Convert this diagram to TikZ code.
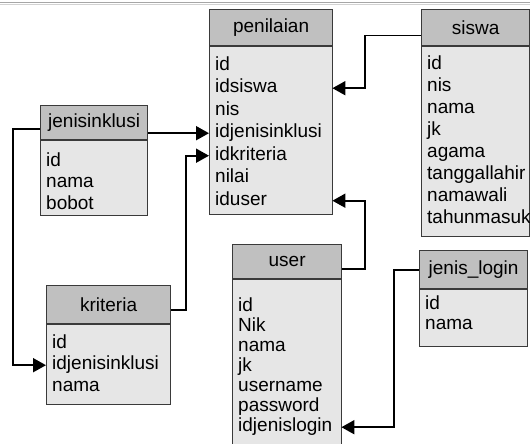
\documentclass[tikz,border=0pt]{standalone}
\usepackage{fontspec}
\setmainfont{Liberation Sans}
\usetikzlibrary{arrows.meta}
\definecolor{kepalaabu}{HTML}{C0C0C0}
\definecolor{isiabu}{HTML}{E6E6E6}
\definecolor{garisabu}{HTML}{3A3A3A}
\tikzset{
  kepala/.style={draw=garisabu, line width=1.2pt, fill=kepalaabu, anchor=north west, inner sep=0pt},
  isi/.style={draw=garisabu, line width=1.2pt, fill=isiabu, anchor=north west, inner sep=0pt},
  baris/.style={anchor=west, inner xsep=6pt, inner ysep=0pt, text height=14pt, text depth=5pt, align=left},
  relasi/.style={line width=1.8pt, -{Triangle[length=13pt,width=14pt]}}
}
\begin{document}
\begin{tikzpicture}[x=1pt, y=-1pt, font=\fontsize{19}{22}\selectfont]
\useasboundingbox (0,0) rectangle (530,444);
\draw[gray!70, line width=1.2pt] (0,2.5) -- (530,2.5); %window edge
\draw[gray!35, line width=1pt] (0,4.5) -- (530,4.5);
% penilaian
\node[kepala, minimum width=123pt, minimum height=36pt] (penH) at (209,9) {penilaian};
\node[isi, minimum width=123pt, minimum height=168pt] (penB) at (penH.south west) {};
\foreach \f [count=\i] in {id,idsiswa,nis,idjenisinklusi,idkriteria,nilai,iduser}
  \node[baris, text width=111pt] (pen-\i) at ([yshift={-(19.5+22.5*(\i-1))*1pt}]penH.south west) {\f};
% siswa
\node[kepala, minimum width=108pt, minimum height=36pt] (siswaH) at (421,9) {siswa};
\node[isi, minimum width=108pt, minimum height=190pt] (siswaB) at (siswaH.south west) {};
\foreach \f [count=\i] in {id,nis,nama,jk,agama,tanggallahir,namawali,tahunmasuk}
  \node[baris, text width=96pt] (siswa-\i) at ([yshift={-(19+22*(\i-1))*1pt}]siswaH.south west) {\f};
% jenisinklusi
\node[kepala, minimum width=107pt, minimum height=34pt] (jenH) at (40,105) {jenisinklusi};
\node[isi, minimum width=107pt, minimum height=75pt] (jenB) at (jenH.south west) {};
\foreach \f [count=\i] in {id,nama,bobot}
  \node[baris, text width=95pt] (jen-\i) at ([yshift={-(21.5+21.5*(\i-1))*1pt}]jenH.south west) {\f};
% kriteria
\node[kepala, minimum width=124pt, minimum height=38pt] (kriH) at (46,285) {kriteria};
\node[isi, minimum width=124pt, minimum height=80pt] (kriB) at (kriH.south west) {};
\foreach \f [count=\i] in {id,idjenisinklusi,nama}
  \node[baris, text width=112pt] (kri-\i) at ([yshift={-(19.5+21.5*(\i-1))*1pt}]kriH.south west) {\f};
% user
\node[kepala, minimum width=109pt, minimum height=34pt] (userH) at (232,244) {user};
\node[isi, minimum width=109pt, minimum height=174pt] (userB) at (userH.south west) {};
\foreach \f [count=\i] in {id,Nik,nama,jk,username,password,idjenislogin}
  \node[baris, text width=97pt] (user-\i) at ([yshift={-(28+20*(\i-1))*1pt}]userH.south west) {\f};
% jenis_login
\node[kepala, minimum width=108pt, minimum height=38pt] (loginH) at (419,250) {jenis\_login};
\node[isi, minimum width=108pt, minimum height=57pt] (loginB) at (loginH.south west) {};
\foreach \f [count=\i] in {id,nama}
  \node[baris, text width=96pt] (login-\i) at ([yshift={-(15.5+20*(\i-1))*1pt}]loginH.south west) {\f};
% relasi
\draw[relasi] ([yshift=-8pt]siswaH.west) -- ++(-56,0) |- (pen-2.east); %siswa to idsiswa
\draw[relasi] (jenH.east |- pen-4.west) -- (pen-4.west); %jenisinklusi to idjenisinklusi
\draw[relasi] ([yshift=-5pt]kriH.east) -- ++(15,0) |- (pen-5.west); %kriteria to idkriteria
\draw[relasi] ([yshift=-6pt]jenH.west) -- ++(-27,0) |- (kri-2.west); %jenisinklusi to kriteria
\draw[relasi] ([yshift=-7pt]userH.east) -- ++(23,0) |- (pen-7.east); %user to iduser
\draw[relasi] (loginH.west) -- ++(-25,0) |- (user-7.east); %jenis_login to idjenislogin
\end{tikzpicture}
\end{document}
